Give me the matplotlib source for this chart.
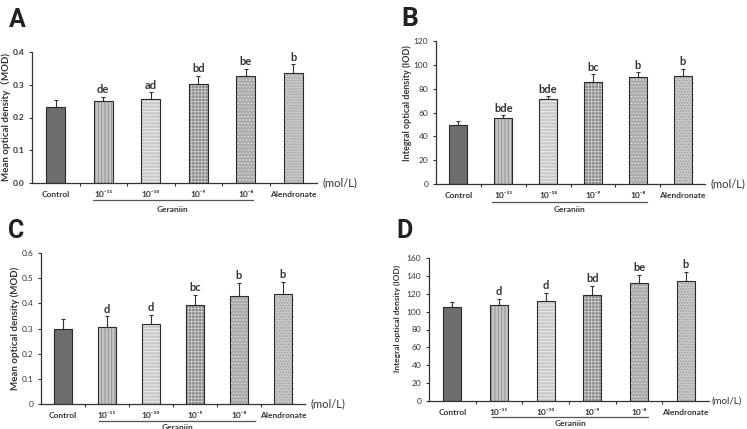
import matplotlib
matplotlib.use("Agg")
import matplotlib.pyplot as plt
import numpy as np

plt.rcParams['font.family'] = ['Lato', 'Noto Sans CJK SC', 'DejaVu Sans']
plt.rcParams['hatch.linewidth'] = 0.6

# 共通のカテゴリ
categories = ["Control", "10⁻¹¹", "10⁻¹⁰", "10⁻⁹", "10⁻⁸", "Alendronate"]

# A: Mean optical density (MOD)
mod_a = [0.232, 0.249, 0.255, 0.302, 0.328, 0.336]
err_a = [0.022, 0.015, 0.022, 0.026, 0.021, 0.026]
sig_a = ["", "de", "ad", "bd", "be", "b"]

# B: Integral optical density (IOD)
iod_b = [49.6, 55.4, 71.5, 86.0, 89.4, 90.5]
err_b = [3.3, 2.2, 2.0, 6.1, 4.4, 6.4]
sig_b = ["", "bde", "bde", "bc", "b", "b"]

# C: Mean optical density (MOD)
mod_c = [0.298, 0.306, 0.317, 0.394, 0.430, 0.438]
err_c = [0.040, 0.042, 0.037, 0.039, 0.050, 0.046]
sig_c = ["", "d", "d", "bc", "b", "b"]

# D: Integral optical density (IOD)
iod_d = [104.7, 106.9, 111.4, 118.9, 132.3, 133.8]
err_d = [6.0, 7.5, 9.3, 9.7, 9.0, 10.5]
sig_d = ["", "d", "d", "bd", "be", "b"]

# 棒のスタイル (塗り色, ハッチ色, ハッチ)
bar_styles = [
    ('#6e6e6e', '#6e6e6e', None),
    ('#c4c4c4', '#8c8c8c', '|||||'),
    ('#cacaca', '#f2f2f2', '-----'),
    ('#8a8a8a', '#cfcfcf', '+++++'),
    ('#aaaaaa', '#e6e6e6', '.....'),
    ('#c6c6c6', '#9a9a9a', '......'),
]

W, H = 747, 429
fig = plt.figure(figsize=(W / 100, H / 100), dpi=100)
letter_family = ['Liberation Sans Narrow', 'Roboto', 'DejaVu Sans']


def px_axes(left, right, top, bottom):
    return fig.add_axes([left / W, (H - bottom) / H, (right - left) / W, (bottom - top) / H])


def draw_panel(ax, vals, errs, sigs, ymax, ystep, yfmt, tick_bold, under_px, geraniin_px,
               bar_w=0.4, under_span=(0.78, 4.15), mol_size=8, mol_off=4):
    x = np.arange(len(categories))
    for i, (fc, hc, hatch) in enumerate(bar_styles):
        ax.bar(x[i], vals[i], width=bar_w, color=fc, edgecolor=hc, hatch=hatch, linewidth=0, zorder=2)
        ax.bar(x[i], vals[i], width=bar_w, fill=False, edgecolor='#2a2a2a', linewidth=0.8, zorder=3)
    ax.errorbar(x, vals, yerr=[np.zeros(len(vals)), errs], fmt='none', ecolor='#333333',
                elinewidth=0.8, capsize=1.5, capthick=0.8, zorder=1)
    for i, s in enumerate(sigs):
        if s:
            ax.text(x[i], vals[i] + errs[i] + ymax * 0.012, s, ha='center', va='bottom',
                    fontsize=8, fontweight='bold', color='#333333')

    ax.set_xlim(-0.5, len(categories) - 0.5)
    ax.set_ylim(0, ymax)
    ax.set_yticks(np.arange(0, ymax + ystep / 2, ystep))
    ax.set_yticklabels([yfmt.format(v) for v in np.arange(0, ymax + ystep / 2, ystep)],
                       fontsize=6, fontweight='bold' if tick_bold else 'normal', color='#333333')
    ax.set_xticks(x)
    ax.set_xticklabels(categories, fontsize=6, fontweight='bold', color='#333333')
    ax.set_xticks(np.arange(0.5, len(categories) - 1), minor=True)
    ax.tick_params(axis='x', which='major', length=0, pad=6)
    ax.tick_params(axis='x', which='minor', length=2.5, width=0.8, direction='out', color='#333333')
    ax.tick_params(axis='y', length=2.5, width=0.8, direction='out', color='#333333', pad=3)
    for side in ['top', 'right']:
        ax.spines[side].set_visible(False)
    for side in ['left', 'bottom']:
        ax.spines[side].set_color('#333333')
        ax.spines[side].set_linewidth(0.9)

    # (mol/L)
    ax.annotate("(mol/L)", xy=(1, 0), xycoords='axes fraction', xytext=(mol_off, 0),
                textcoords='offset points', ha='left', va='center', fontsize=mol_size,
                color='#333333')

    # Geraniin 下線
    h_px = ax.get_position().height * H
    ax.plot(list(under_span), [-under_px / h_px] * 2, transform=ax.get_xaxis_transform(),
            color='#555555', linewidth=0.9, clip_on=False)
    ax.text(np.mean(under_span), -geraniin_px / h_px, "Geraniin", transform=ax.get_xaxis_transform(),
            ha='center', va='center', fontsize=6, fontweight='bold', color='#333333')


# --- A ---
ax_a = px_axes(32, 317, 52, 183)
draw_panel(ax_a, mod_a, err_a, sig_a, 0.4, 0.1, "{:.1f}", True, 17, 27, bar_w=0.4)
fig.text(6 / W, 1 - 117 / H, "Mean optical density（MOD)", rotation=90, ha='center', va='center',
         fontsize=7, fontweight='bold', color='#333333')
fig.text(17 / W, 1 - 20 / H, "A", ha='center', va='center', fontsize=18, fontweight='bold',
         color='#222222', family=letter_family)

# --- B ---
ax_b = px_axes(436, 705, 41, 184)
draw_panel(ax_b, iod_b, err_b, sig_b, 120, 20, "{:.0f}", False, 18, 25, bar_w=0.4,
           under_span=(0.75, 4.2))
fig.text(407 / W, 1 - 103 / H, "Integral optical density (IOD)", rotation=90, ha='center',
         va='center', fontsize=6.5, fontweight='bold', color='#333333')
fig.text(410 / W, 1 - 19 / H, "B", ha='center', va='center', fontsize=19, fontweight='bold',
         color='#222222', family=letter_family)

# --- C ---
ax_c = px_axes(41, 305, 253, 404)
draw_panel(ax_c, mod_c, err_c, sig_c, 0.6, 0.1, "{:.1f}", False, 17, 23, bar_w=0.4,
           under_span=(0.82, 4.37))
ax_c.set_yticklabels(["0"] + ["{:.1f}".format(v) for v in np.arange(0.1, 0.65, 0.1)],
                     fontsize=6, color='#333333')
fig.text(15 / W, 1 - 328 / H, "Mean optical density (MOD)", rotation=90, ha='center',
         va='center', fontsize=7, fontweight='bold', color='#333333')
fig.text(16 / W, 1 - 231 / H, "C", ha='center', va='center', fontsize=18, fontweight='bold',
         color='#222222', family=letter_family)

# --- D ---
ax_d = px_axes(429, 709, 258, 401)
draw_panel(ax_d, iod_d, err_d, sig_d, 160, 20, "{:.0f}", False, 16, 22, bar_w=0.38,
           under_span=(0.85, 4.2), mol_size=7, mol_off=1.5)
fig.text(397 / W, 1 - 318 / H, "Integral optical density (IOD)", rotation=90, ha='center',
         va='center', fontsize=6, fontweight='bold', color='#333333')
fig.text(405 / W, 1 - 231 / H, "D", ha='center', va='center', fontsize=18, fontweight='bold',
         color='#222222', family=letter_family)

fig.savefig("out.png", dpi=100, facecolor='white')
